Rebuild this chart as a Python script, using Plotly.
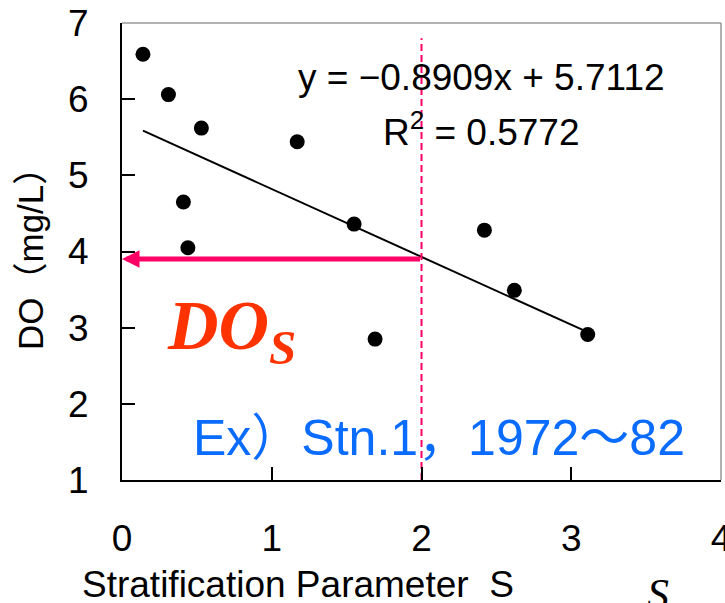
import plotly.graph_objects as go

# Data
s_values = [0.14, 0.31, 0.53, 0.41, 0.44, 1.17, 1.55, 1.69, 2.42, 2.62, 3.11]
do_values = [6.59, 6.06, 5.62, 4.65, 4.05, 5.44, 4.36, 2.85, 4.28, 3.49, 2.91]
slope = -0.8909
intercept = 5.7112
r_squared = 0.5772
fit_x = [min(s_values), max(s_values)]
fit_y = [slope * v + intercept for v in fit_x]
s_threshold = 2.0
dash_top = 6.8
do_s = 3.9
x_ticks = [0, 1, 2, 3, 4]
y_ticks = [1, 2, 3, 4, 5, 6, 7]

BASE = "Liberation Sans, Arial, Noto Sans CJK JP, sans-serif"
SERIF = "Liberation Serif, Times New Roman, serif"
PINK = "#FF0066"

fig = go.Figure()
fig.add_trace(go.Scatter(x=fit_x, y=fit_y, mode="lines",
                         line=dict(color="black", width=2), showlegend=False, hoverinfo="skip"))
fig.add_trace(go.Scatter(x=[s_threshold, s_threshold], y=[1, dash_top], mode="lines",
                         line=dict(color=PINK, width=2, dash="7px,4px"), showlegend=False))
fig.add_trace(go.Scatter(x=s_values, y=do_values, mode="markers",
                         marker=dict(color="black", size=15), showlegend=False))

# top/right gray frame
fig.add_shape(type="line", xref="paper", yref="paper", x0=0, x1=1, y0=1, y1=1,
              line=dict(color="#999999", width=1.5))
fig.add_shape(type="line", xref="paper", yref="paper", x0=1, x1=1, y0=0, y1=1,
              line=dict(color="#999999", width=1.5))

ann = []
ann.append(dict(x=0, y=do_s, ax=s_threshold, ay=do_s, xref="x", yref="y", axref="x", ayref="y",
                text="", showarrow=True, arrowhead=2, arrowsize=0.7, arrowwidth=5,
                arrowcolor=PINK, standoff=0, startstandoff=0))
ann.append(dict(x=2.40, y=6.28, xref="x", yref="y",
                text="y = \u22120.8909x + 5.7112", showarrow=False,
                font=dict(family=BASE, size=37, color="black")))
ann.append(dict(x=2.40, y=5.6, xref="x", yref="y",
                text=f"R<sup>2</sup> = {r_squared}", showarrow=False,
                font=dict(family=BASE, size=37, color="black")))
ann.append(dict(x=0.73, y=2.95, xref="x", yref="y",
                text="<b><i>DO<sub>S</sub></i></b>", showarrow=False,
                font=dict(family=SERIF, size=70, color="#FF3300")))
ann.append(dict(x=2.12, y=1.55, xref="x", yref="y",
                text="Ex\uff09Stn.1\uff0c1972\uff5e82", showarrow=False,
                font=dict(family=BASE, size=50, color="#0A6CFF")))
ann.append(dict(x=(298 - 122) / 599, y=(480 - 584) / 457, xref="paper", yref="paper",
                xanchor="center", yanchor="middle",
                text="Stratification Parameter  S", showarrow=False,
                font=dict(family=BASE, size=37, color="black")))
ann.append(dict(x=(658 - 122) / 599, y=(480 - 568) / 457, xref="paper", yref="paper",
                xanchor="center", yanchor="top",
                text="<i>S</i>", showarrow=False,
                font=dict(family=SERIF, size=44, color="black")))
ann.append(dict(x=(30 - 122) / 599, y=(480 - 250) / 457, xref="paper", yref="paper",
                xanchor="center", yanchor="middle",
                text="DO\uff08mg/L\uff09", textangle=-90, showarrow=False,
                font=dict(family=BASE, size=35, color="black")))

fig.update_layout(
    width=725, height=603,
    margin=dict(l=122, r=4, t=23, b=123, autoexpand=False),
    paper_bgcolor="white", plot_bgcolor="white",
    annotations=ann,
    xaxis=dict(range=[0, 4], tickvals=x_ticks, ticks="inside", ticklen=13, tickwidth=1.5,
               tickcolor="black", showline=True, linecolor="black", linewidth=2,
               showgrid=False, zeroline=False, ticklabelstandoff=25,
               ticklabeloverflow="allow", automargin=False,
               tickfont=dict(family=BASE, size=37, color="black")),
    yaxis=dict(range=[1, 7], tickvals=y_ticks, ticks="inside", ticklen=13, tickwidth=1.5,
               tickcolor="black", showline=True, linecolor="black", linewidth=2,
               showgrid=False, zeroline=False, ticklabelstandoff=24,
               ticklabeloverflow="allow", automargin=False,
               tickfont=dict(family=BASE, size=37, color="black")),
)
fig.write_html("out.html")
